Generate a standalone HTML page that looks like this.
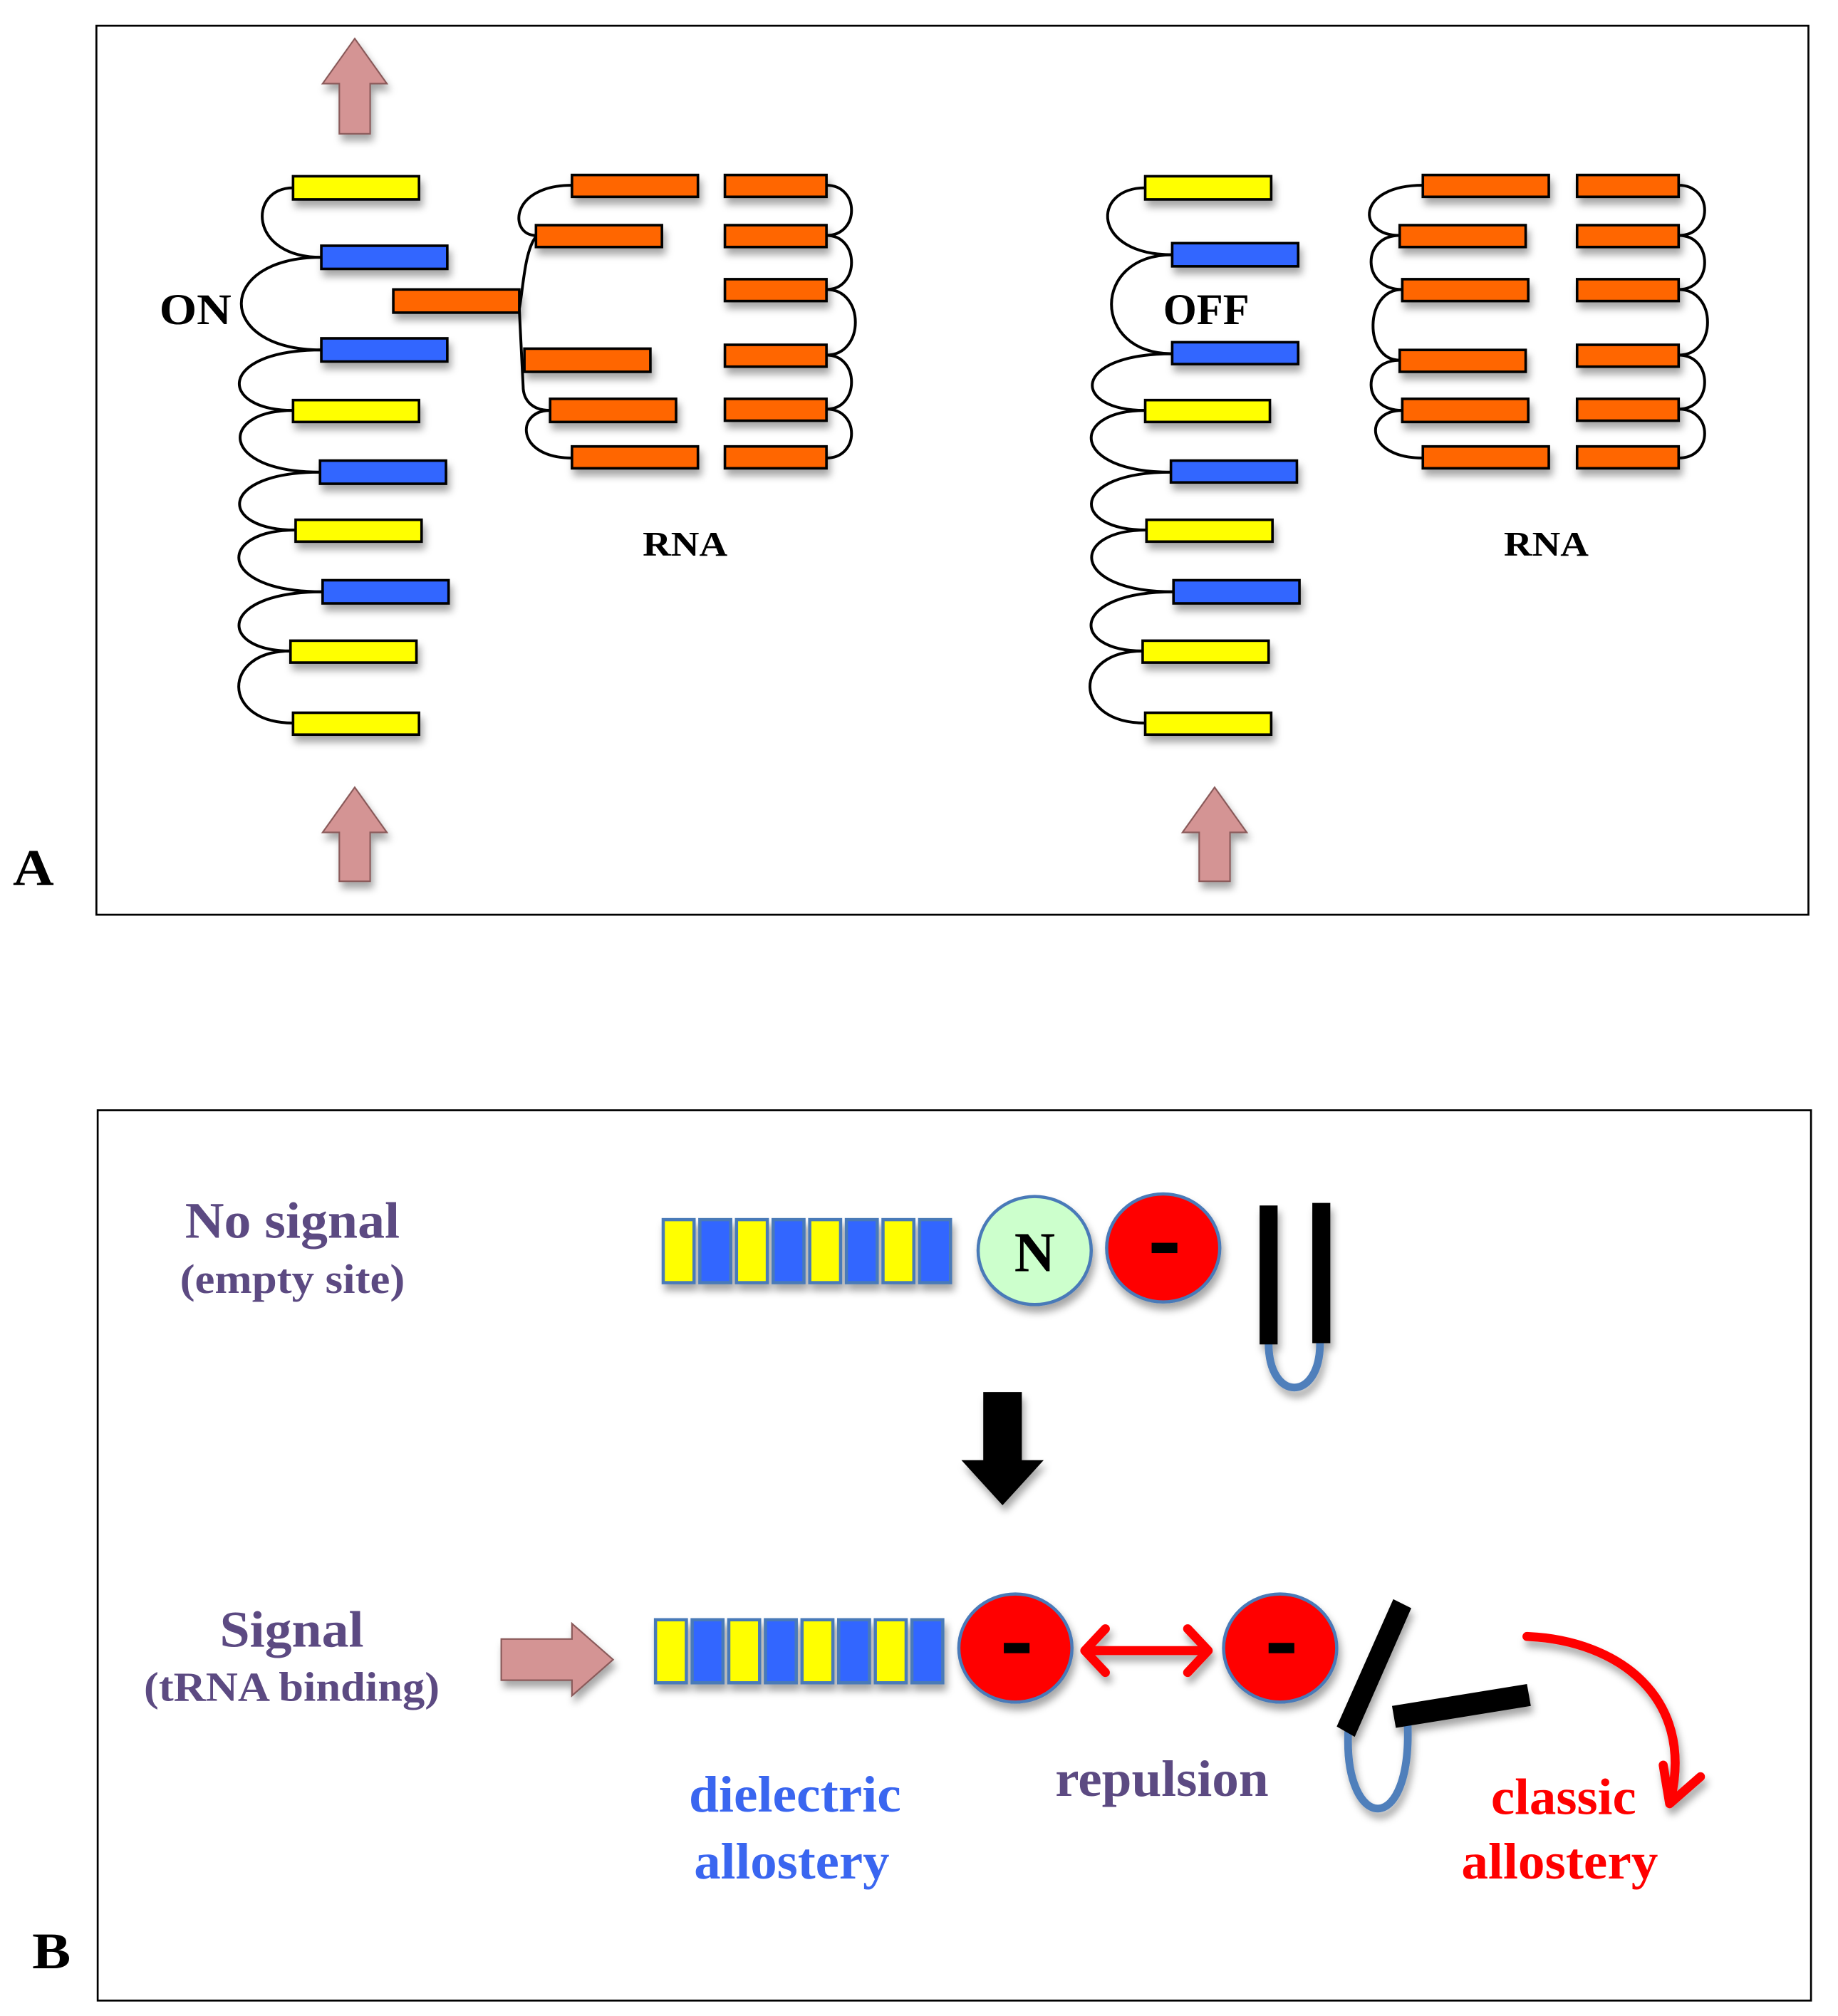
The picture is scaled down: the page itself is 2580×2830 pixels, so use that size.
<!DOCTYPE html>
<html><head><meta charset="utf-8"><style>
html,body{margin:0;padding:0;background:#fff}
svg{display:block}
text{font-family:"Liberation Serif",serif;font-weight:bold}
</style></head><body>
<svg width="2580" height="2830" viewBox="0 0 1430 1567" preserveAspectRatio="none" xmlns="http://www.w3.org/2000/svg">
<defs>
<filter id="sh" x="-20%" y="-20%" width="140%" height="160%"><feDropShadow dx="2" dy="5" stdDeviation="3" flood-color="#000" flood-opacity="0.35"/></filter>
</defs>
<rect x="75" y="20" width="1332" height="691" fill="none" stroke="#000" stroke-width="1.5"/>
<rect x="76" y="863" width="1333" height="692" fill="none" stroke="#000" stroke-width="1.5"/>
<text x="10" y="688" font-size="40" textLength="32" lengthAdjust="spacingAndGlyphs">A</text>
<text x="25" y="1530" font-size="40" textLength="30" lengthAdjust="spacingAndGlyphs">B</text>

<g fill="none" stroke="#000" stroke-width="2.2">
<path d="M228,146 C193,146 193,200 250,200"/>
<path d="M250,200 C167,200 167,272 250,272"/>
<path d="M250,272 C169,272 169,319 228,319"/>
<path d="M228,319 C170,319 170,367 249,367"/>
<path d="M249,367 C169,367 169,412 230,412"/>
<path d="M230,412 C168,412 168,460 251,460"/>
<path d="M251,460 C169,460 169,506 226,506"/>
<path d="M226,506 C172,506 172,562 228,562"/>
<path d="M445,144 C396,144 396,183 417,183"/>
<path d="M417,184 C408,195 407,225 404,240 L407,300 C407,312 415,319 428,319"/>
<path d="M428,319 C401,319 401,356 445,356"/>
<path d="M643,144 C669,144 669,183 643,183"/>
<path d="M643,183 C669,183 669,225 643,225"/>
<path d="M643,225 C673,225 673,276 643,276"/>
<path d="M643,276 C669,276 669,318 643,318"/>
<path d="M643,318 C669,318 669,356 643,356"/>
<path d="M891,146 C849,146 849,198 912,198"/>
<path d="M912,198 C849,198 849,275 912,275"/>
<path d="M912,275 C833,275 833,319 891,319"/>
<path d="M891,319 C832,319 832,367 911,367"/>
<path d="M911,367 C832,367 832,412 892,412"/>
<path d="M892,412 C832,412 832,460 913,460"/>
<path d="M913,460 C832,460 832,506 889,506"/>
<path d="M889,506 C834,506 834,562 891,562"/>
<path d="M1107,144 C1055,144 1055,183 1089,183"/>
<path d="M1089,183 C1059,183 1059,225 1091,225"/>
<path d="M1091,225 C1061,225 1061,280 1089,280"/>
<path d="M1089,280 C1059,280 1059,319 1091,319"/>
<path d="M1091,319 C1061,319 1061,356 1107,356"/>
<path d="M1306,144 C1333,144 1333,183 1306,183"/>
<path d="M1306,183 C1333,183 1333,225 1306,225"/>
<path d="M1306,225 C1336,225 1336,276 1306,276"/>
<path d="M1306,276 C1333,276 1333,318 1306,318"/>
<path d="M1306,318 C1333,318 1333,356 1306,356"/>
</g>

<g stroke="#000" stroke-width="2" filter="url(#sh)">
<rect x="228" y="137" width="98" height="18" fill="#ffff00"/>
<rect x="250" y="191" width="98" height="18" fill="#3366ff"/>
<rect x="306" y="225" width="98" height="18" fill="#ff6600"/>
<rect x="250" y="263" width="98" height="18" fill="#3366ff"/>
<rect x="228" y="311" width="98" height="17" fill="#ffff00"/>
<rect x="249" y="358" width="98" height="18" fill="#3366ff"/>
<rect x="230" y="404" width="98" height="17" fill="#ffff00"/>
<rect x="251" y="451" width="98" height="18" fill="#3366ff"/>
<rect x="226" y="498" width="98" height="17" fill="#ffff00"/>
<rect x="228" y="554" width="98" height="17" fill="#ffff00"/>
<g fill="#ff6600">
<rect x="445" y="136" width="98" height="17"/><rect x="564" y="136" width="79" height="17"/>
<rect x="417" y="175" width="98" height="17"/><rect x="564" y="175" width="79" height="17"/>
<rect x="564" y="217" width="79" height="17"/>
<rect x="408" y="271" width="98" height="18"/><rect x="564" y="268" width="79" height="17"/>
<rect x="428" y="310" width="98" height="18"/><rect x="564" y="310" width="79" height="17"/>
<rect x="445" y="347" width="98" height="17"/><rect x="564" y="347" width="79" height="17"/>
<rect x="1107" y="136" width="98" height="17"/><rect x="1227" y="136" width="79" height="17"/>
<rect x="1089" y="175" width="98" height="17"/><rect x="1227" y="175" width="79" height="17"/>
<rect x="1091" y="217" width="98" height="17"/><rect x="1227" y="217" width="79" height="17"/>
<rect x="1089" y="272" width="98" height="17"/><rect x="1227" y="268" width="79" height="17"/>
<rect x="1091" y="310" width="98" height="18"/><rect x="1227" y="310" width="79" height="17"/>
<rect x="1107" y="347" width="98" height="17"/><rect x="1227" y="347" width="79" height="17"/>
</g>
<rect x="891" y="137" width="98" height="18" fill="#ffff00"/>
<rect x="912" y="189" width="98" height="18" fill="#3366ff"/>
<rect x="912" y="266" width="98" height="17" fill="#3366ff"/>
<rect x="891" y="311" width="97" height="17" fill="#ffff00"/>
<rect x="911" y="358" width="98" height="17" fill="#3366ff"/>
<rect x="892" y="404" width="98" height="17" fill="#ffff00"/>
<rect x="913" y="451" width="98" height="18" fill="#3366ff"/>
<rect x="889" y="498" width="98" height="17" fill="#ffff00"/>
<rect x="891" y="554" width="98" height="17" fill="#ffff00"/>
</g>

<g fill="#d49494" stroke="#8a5a5a" stroke-width="1.2" filter="url(#sh)">
<polygon points="276,30 301,65 288,65 288,104 264,104 264,65 251,65"/>
<polygon points="276,612 301,647 288,647 288,685 264,685 264,647 251,647"/>
<polygon points="945,612 970,647 957,647 957,685 933,685 933,647 920,647"/>
<polygon points="390,1274 445,1274 445,1262 477,1290 445,1318 445,1306 390,1306"/>
</g>

<text x="124" y="252" font-size="34" textLength="56" lengthAdjust="spacingAndGlyphs">ON</text>
<text x="905" y="252" font-size="34" textLength="67" lengthAdjust="spacingAndGlyphs">OFF</text>
<text x="500" y="432" font-size="27" textLength="66" lengthAdjust="spacingAndGlyphs">RNA</text>
<text x="1170" y="432" font-size="27" textLength="66" lengthAdjust="spacingAndGlyphs">RNA</text>

<text x="144" y="962" font-size="40" fill="#5c4a82" textLength="167" lengthAdjust="spacingAndGlyphs">No signal</text>
<text x="140" y="1005" font-size="32" fill="#5c4a82" textLength="175" lengthAdjust="spacingAndGlyphs">(empty site)</text>
<text x="171" y="1280" font-size="40" fill="#5c4a82" textLength="112" lengthAdjust="spacingAndGlyphs">Signal</text>
<text x="112" y="1322" font-size="32" fill="#5c4a82" textLength="230" lengthAdjust="spacingAndGlyphs">(tRNA binding)</text>

<g stroke="#4a7ab8" stroke-width="2.5" filter="url(#sh)">
<rect x="516" y="948" width="24" height="49" fill="#ffff00"/>
<rect x="544.5" y="948" width="24" height="49" fill="#3366ff"/>
<rect x="573" y="948" width="24" height="49" fill="#ffff00"/>
<rect x="601.5" y="948" width="24" height="49" fill="#3366ff"/>
<rect x="630" y="948" width="24" height="49" fill="#ffff00"/>
<rect x="658.5" y="948" width="24" height="49" fill="#3366ff"/>
<rect x="687" y="948" width="24" height="49" fill="#ffff00"/>
<rect x="715.5" y="948" width="24" height="49" fill="#3366ff"/>
<rect x="510" y="1259" width="24" height="49" fill="#ffff00"/>
<rect x="538.5" y="1259" width="24" height="49" fill="#3366ff"/>
<rect x="567" y="1259" width="24" height="49" fill="#ffff00"/>
<rect x="595.5" y="1259" width="24" height="49" fill="#3366ff"/>
<rect x="624" y="1259" width="24" height="49" fill="#ffff00"/>
<rect x="652.5" y="1259" width="24" height="49" fill="#3366ff"/>
<rect x="681" y="1259" width="24" height="49" fill="#ffff00"/>
<rect x="709.5" y="1259" width="24" height="49" fill="#3366ff"/>
<ellipse cx="805" cy="972" rx="44" ry="42" fill="#ccffcc"/>
<ellipse cx="905" cy="970" rx="44" ry="42" fill="#ff0000"/>
<ellipse cx="790" cy="1281" rx="44" ry="42" fill="#ff0000"/>
<ellipse cx="996" cy="1281" rx="44" ry="42" fill="#ff0000"/>
</g>
<text x="805" y="988" font-size="44" text-anchor="middle">N</text>
<rect x="896" y="966" width="20" height="8" fill="#000"/>
<rect x="781" y="1277" width="20" height="8" fill="#000"/>
<rect x="987" y="1277" width="20" height="8" fill="#000"/>

<g filter="url(#sh)">
<path d="M987,1044 C987,1090 1027,1090 1027,1044" fill="none" stroke="#4f7fbb" stroke-width="6"/>
<rect x="980" y="937" width="14" height="108" fill="#000"/>
<rect x="1021" y="935" width="14" height="109" fill="#000"/>
<polygon points="765,1082 795,1082 795,1135 812,1135 780,1170 748,1135 765,1135" fill="#000"/>
<path d="M1049,1345 C1045,1425 1100,1430 1095,1336" fill="none" stroke="#4f7fbb" stroke-width="6"/>
<polygon points="1084,1243 1098,1250 1054,1350 1040,1342" fill="#000"/>
<polygon points="1083,1326 1188,1309 1191,1326 1086,1343" fill="#000"/>
<g fill="none" stroke="#ff0000" stroke-width="7" stroke-linecap="round" stroke-linejoin="round">
<path d="M852,1283 L932,1283"/>
<path d="M860,1266 L844,1283 L860,1300"/>
<path d="M924,1266 L940,1283 L924,1300"/>
<path d="M1188,1272 C1260,1275 1318,1320 1300,1398"/>
<path d="M1294,1372 L1299,1402 L1323,1381"/>
</g>
</g>

<text x="536" y="1408" font-size="40" fill="#3a66f0" textLength="165" lengthAdjust="spacingAndGlyphs">dielectric</text>
<text x="540" y="1460" font-size="40" fill="#3a66f0" textLength="152" lengthAdjust="spacingAndGlyphs">allostery</text>
<text x="821" y="1396" font-size="40" fill="#5c4a82" textLength="166" lengthAdjust="spacingAndGlyphs">repulsion</text>
<text x="1160" y="1410" font-size="40" fill="#ff0000" textLength="113" lengthAdjust="spacingAndGlyphs">classic</text>
<text x="1137" y="1460" font-size="40" fill="#ff0000" textLength="153" lengthAdjust="spacingAndGlyphs">allostery</text>
</svg>
</body></html>
